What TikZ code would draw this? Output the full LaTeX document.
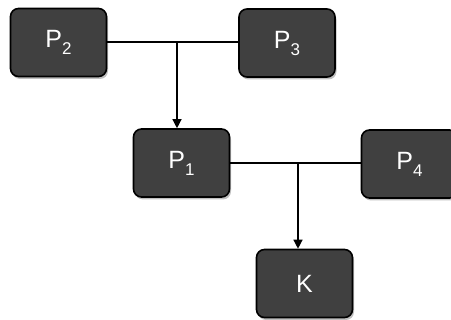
\documentclass[tikz,border=0pt]{standalone}
\usepackage{fontspec}
\setmainfont{Liberation Sans}
\usetikzlibrary{arrows.meta,shadows}
\definecolor{boxfill}{HTML}{404040}
\newcommand{\Psub}[1]{P\raisebox{-7pt}{\fontsize{17}{17}\selectfont #1}}
\tikzset{
  pbox/.style={draw=black, line width=1.6pt, fill=boxfill, rounded corners=8pt,
    minimum width=96pt, minimum height=68pt, inner sep=0pt,
    text=white, font=\fontsize{25}{25}\selectfont,
    drop shadow={shadow xshift=1.5pt, shadow yshift=-2.5pt, opacity=0.25, fill=black}},
  conn/.style={line width=1.3pt, draw=black},
  arr/.style={conn, -{Triangle[length=9pt,width=9pt]}}
}
\begin{document}
\begin{tikzpicture}[x=1pt,y=-1pt]
\useasboundingbox (0,0) rectangle (451,320);
\node[pbox] (p2) at (58.5,42.5) {\Psub{2}};
\node[pbox] (p3) at (287,43) {\Psub{3}};
\node[pbox] (p1) at (181.5,163) {\Psub{1}};
\node[pbox] (p4) at (409.5,164) {\Psub{4}};
\node[pbox] (k) at (304.5,283.5) {K};
\coordinate (j1) at (177,42);
\coordinate (j2) at (298,163);
\draw[conn] (p2.east |- j1) -- (p3.west |- j1);
\draw[arr] (j1) -- (j1 |- p1.north);
\draw[conn] (p1.east |- j2) -- (p4.west |- j2);
\draw[arr] (j2) -- (j2 |- k.north);
\end{tikzpicture}
\end{document}
